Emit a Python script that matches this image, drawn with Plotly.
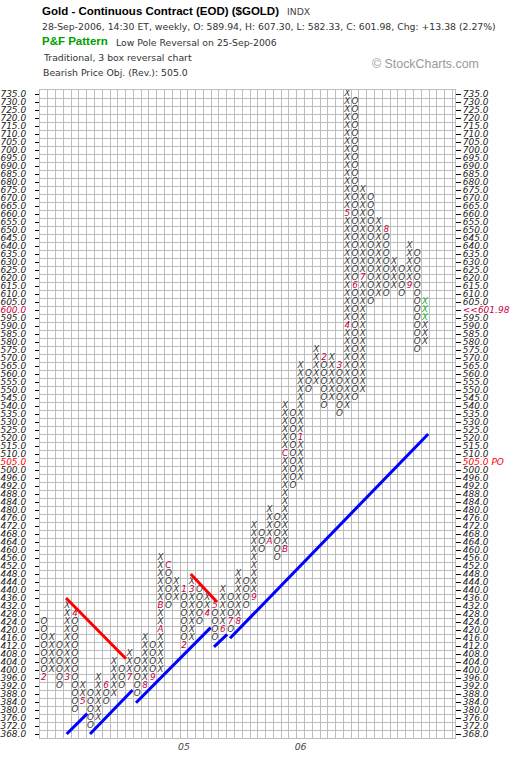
import plotly.graph_objects as go

# ---------------- data ----------------
# Box scale of the P&F chart: 4-point boxes up to 500, 5-point boxes above
box_prices_4 = list(range(368, 501, 4))
box_prices_5 = list(range(505, 736, 5))
box_prices = box_prices_4 + box_prices_5

# Columns (left to right): type, top box, bottom box
col_type = ["O", "X"] * 25
col_top = [424, 416, 412, 432, 428, 392, 388, 396, 392, 404,
           400, 408, 404, 416, 412, 456, 452, 444, 440, 444,
           440, 436, 432, 440, 436, 448, 444, 472, 468, 480,
           476, 540, 535, 565, 560, 575, 570, 570, 565, 735,
           730, 675, 670, 655, 650, 630, 625, 640, 635, 605]
col_bottom = [396, 400, 392, 396, 380, 384, 372, 376, 384, 388,
              392, 396, 388, 392, 396, 400, 432, 436, 412, 416,
              424, 428, 416, 420, 420, 424, 432, 436, 460, 464,
              456, 460, 492, 496, 550, 555, 540, 545, 535, 540,
              545, 550, 605, 610, 610, 615, 610, 615, 575, 580]

# Month markers (column, box price, label)
marker_col = [0, 3, 4, 5, 8, 11, 13, 14, 15, 15, 16, 18, 18, 19, 21, 22,
              23, 24, 25, 27, 29, 31, 31, 33, 36, 38, 39, 39, 40, 41, 44, 47]
marker_price = [396, 396, 428, 384, 392, 396, 392, 396, 420, 432, 452, 440, 412, 440, 428, 432,
                420, 424, 424, 436, 464, 460, 510, 520, 570, 565, 590, 660, 615, 620, 650, 615]
marker_label = ["2", "3", "4", "5", "6", "7", "8", "9", "A", "B", "C", "1", "2", "3", "4", "5",
                "6", "7", "8", "9", "A", "B", "C", "1", "2", "3", "4", "5", "6", "7", "8", "9"]

# Boxes added in the current week (green)
current_col = 49
current_prices = [595, 600, 605]

year_col = [18, 33]
year_label = ["05", "06"]

last_price = 601.98
price_objective = 505.0

# Trend lines in (column, box-row) units
red_line_x = [[2.84, 10.55], [18.87, 22.25]]
red_line_y = [[17.0, 9.4], [20.0, 16.5]]
blue_line_x = [[2.93, 5.57], [5.93, 11.4], [11.84, 21.43], [21.86, 23.56], [23.92, 49.4]]
blue_line_y = [[0.0, 2.54], [0.0, 5.5], [3.9, 13.3], [10.9, 12.46], [11.96, 37.5]]

# ---------------- build ----------------
row_of = {p: i for i, p in enumerate(box_prices)}
markers = {(c, p): s for c, p, s in zip(marker_col, marker_price, marker_label)}

xs = {"X": [], "O": []}
ys = {"X": [], "O": []}
mx, my, mt = [], [], []
gx, gy = [], []
for c, (t, top, bot) in enumerate(zip(col_type, col_top, col_bottom)):
    for p in box_prices:
        if bot <= p <= top:
            if (c, p) in markers:
                mx.append(c); my.append(row_of[p]); mt.append(markers[(c, p)])
            elif c == current_col and p in current_prices:
                gx.append(c); gy.append(row_of[p])
            else:
                xs[t].append(c); ys[t].append(row_of[p])

last_box = max(p for p in box_prices if p <= last_price)
obj_box = max(p for p in box_prices if p <= price_objective)
CRIMSON = "#c8003c"
RED = "#ff0000"

left_text, right_text = [], []
for p in box_prices:
    lab = f"{p:.1f}"
    if p == last_box:
        left_text.append(f'<span style="color:{CRIMSON}">{lab}</span>')
        right_text.append(f'<span style="color:{CRIMSON}">&lt;&lt;{last_price:.2f}</span>')
    elif p == obj_box:
        left_text.append(f'<span style="color:{RED}">{lab}</span>')
        right_text.append(f'<span style="color:{RED}">{lab} PO</span>')
    else:
        left_text.append(lab)
        right_text.append(lab)

FIG_W, FIG_H = 520, 762
L, R, T, B = 40, 65, 90, 24
PW, PH = FIG_W - L - R, FIG_H - T - B
COLW = 7.78
xmax = -0.5 + PW / COLW
nrows = len(box_prices)

mark_font = dict(family="DejaVu Sans", size=8.8, style="italic")

fig = go.Figure()
for t in ["X", "O"]:
    fig.add_trace(go.Scatter(x=xs[t], y=ys[t], mode="text", text=[t] * len(xs[t]),
                             textposition="middle center",
                             textfont=dict(color="#3a3a3a", **mark_font), hoverinfo="skip"))
fig.add_trace(go.Scatter(x=mx, y=my, mode="text", text=mt, textposition="middle center",
                         textfont=dict(color=CRIMSON, **mark_font), hoverinfo="skip"))
fig.add_trace(go.Scatter(x=gx, y=gy, mode="text", text=["X"] * len(gx), textposition="middle center",
                         textfont=dict(color="#22aa22", **mark_font), hoverinfo="skip"))

for lx, ly in zip(red_line_x, red_line_y):
    fig.add_trace(go.Scatter(x=lx, y=ly, mode="lines", line=dict(color="#ff0000", width=3),
                             hoverinfo="skip"))
for lx, ly in zip(blue_line_x, blue_line_y):
    fig.add_trace(go.Scatter(x=lx, y=ly, mode="lines", line=dict(color="#0000ff", width=3),
                             hoverinfo="skip"))

# invisible trace to carry the right-hand axis
fig.add_trace(go.Scatter(x=[0], y=[0], yaxis="y2", mode="markers", marker=dict(opacity=0),
                         hoverinfo="skip"))

GRID = "#bdbdbd"
tickfont = dict(family="DejaVu Sans", size=9, color="#222", style="italic")

fig.update_layout(
    width=FIG_W, height=FIG_H,
    margin=dict(l=L, r=R, t=T, b=B, pad=0, autoexpand=False),
    paper_bgcolor="white", plot_bgcolor="white",
    showlegend=False,
    font=dict(family="DejaVu Sans", size=9.3, color="#333"),
    xaxis=dict(range=[-0.5, xmax], tickmode="array", tickvals=year_col, ticktext=year_label,
               showgrid=False, zeroline=False, ticks="", fixedrange=True, automargin=False,
               tickfont=dict(family="DejaVu Sans", size=9.3, color="#444", style="italic"),
               showline=True, mirror=True, linecolor=GRID, linewidth=1,
               minor=dict(tickmode="linear", tick0=-0.5, dtick=1, showgrid=True,
                          gridcolor=GRID, gridwidth=1, ticks="")),
    yaxis=dict(range=[-0.5, nrows - 0.5], tickmode="array", tickvals=list(range(nrows)),
               ticktext=left_text, showgrid=False, zeroline=False, fixedrange=True,
               automargin=False,
               ticks="outside", ticklen=4, tickcolor="#000", tickwidth=1,
               ticklabelstandoff=7, tickfont=tickfont,
               showline=True, mirror=True, linecolor=GRID, linewidth=1,
               minor=dict(tickmode="linear", tick0=-0.5, dtick=1, showgrid=True,
                          gridcolor=GRID, gridwidth=1, ticks="")),
    yaxis2=dict(range=[-0.5, nrows - 0.5], overlaying="y", side="right", tickmode="array",
                tickvals=list(range(nrows)), ticktext=right_text, showgrid=False, zeroline=False,
                fixedrange=True, automargin=False,
                ticks="outside", ticklen=5, tickcolor="#000", tickwidth=1,
                tickfont=tickfont, showline=False),
)


def px2x(px):
    return (px - L) / PW


def px2y(py):
    return 1 - (py - T) / PH


small = dict(family="DejaVu Sans", size=9.3, color="#333")
header = [
    (40, 11, "<b>Gold - Continuous Contract (EOD) ($GOLD)</b>",
     dict(family="Liberation Sans", size=11.5, color="#000")),
    (285, 12, "INDX", dict(family="DejaVu Sans", size=9.3, color="#444")),
    (40, 26, "28-Sep-2006, 14:30 ET, weekly, O: 589.94, H: 607.30, L: 582.33, C: 601.98, "
             "Chg: +13.38 (2.27%)", small),
    (40, 41, "<b>P&amp;F Pattern</b>", dict(family="Liberation Sans", size=11.5, color="#00a000")),
    (114, 42, "Low Pole Reversal on 25-Sep-2006", small),
    (41, 57, "Traditional, 3 box reversal chart", small),
    (41, 72, "Bearish Price Obj. (Rev.): 505.0", small),
    (370, 64, "© StockCharts.com", dict(family="Liberation Sans", size=12.4, color="#999")),
]
for px, py, txt, f in header:
    fig.add_annotation(x=px2x(px), y=px2y(py), xref="paper", yref="paper", text=txt,
                       showarrow=False, xanchor="left", yanchor="middle", font=f)

fig.write_html("out.html", config={"displayModeBar": False},
               post_script="document.body.style.margin='0';")
